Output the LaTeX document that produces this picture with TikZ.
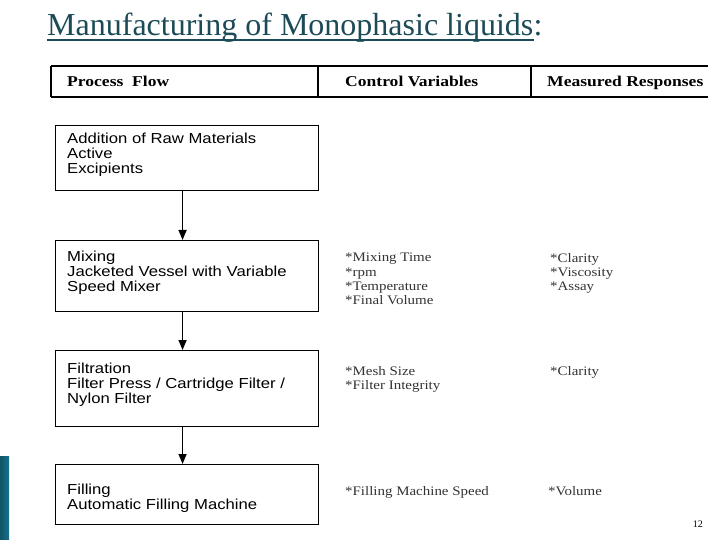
\documentclass[tikz,border=0pt]{standalone}
\usepackage{fontspec}
\setmainfont{Liberation Serif}
\newfontfamily\boxfont[FakeStretch=1.15]{Liberation Sans}
\newfontfamily\notefont[FakeStretch=1.15]{Liberation Serif}
\newfontfamily\headfont[FakeStretch=1.17]{Liberation Serif}
\usetikzlibrary{arrows.meta,positioning,calc}
\definecolor{titleteal}{HTML}{1C4B57}
\definecolor{barteal}{HTML}{16708A}

\begin{document}
\begin{tikzpicture}[x=1pt, y=-1pt,
  stage/.style={draw, line width=1.1pt, anchor=north west, minimum width=263pt, inner sep=0pt},
  stagetext/.style={anchor=north west, align=left, inner sep=0pt, xshift=12pt, font=\boxfont\fontsize{14.5}{15}\selectfont},
  note/.style={anchor=north west, align=left, inner sep=0pt, font=\notefont\fontsize{13}{14.3}\selectfont, text=black!80},
  head/.style={anchor=base west, inner sep=0pt, font=\headfont\bfseries\fontsize{15}{18}\selectfont},
  rule/.style={line width=1.3pt},
  flow/.style={-{Triangle[length=10pt,width=8pt]}, line width=1.5pt}]
\useasboundingbox (0,0) rectangle (720,540);
\fill[left color=barteal!75!black, right color=barteal] (0,456) rectangle (9,540);
% title
\node[anchor=base west, inner sep=0pt, text=titleteal, font=\fontsize{32}{36}\selectfont] (title) at (47,36)
  {Manufacturing of Monophasic liquids};
\node[anchor=base west, inner sep=0pt, text=titleteal, font=\fontsize{32}{36}\selectfont] (colon) at (title.base east) {:};
\draw[titleteal, line width=2pt] ([yshift=-4.5pt]title.base west) -- ([yshift=-4.5pt]title.base east);
% header row
\draw[rule] (51,66) -- (708,66) (51,97) -- (708,97);
\foreach \x in {51,318,531} \draw[rule] (\x,66) -- (\x,97);
\node[head] (hproc) at (67,87) {Process~ Flow};
\node[head] (hctl) at (345,87) {Control Variables};
\node[head] (hresp) at (547,87) {Measured Responses};
% process stages
\node[stage, minimum height=65pt, label={[stagetext, yshift=-8pt]north west:{Addition of Raw Materials\\Active\\Excipients}}] (raw) at (55,125) {};
\node[stage, minimum height=71pt, label={[stagetext, yshift=-11pt]north west:{Mixing\\Jacketed Vessel with Variable\\Speed Mixer}}] (mix) at (55,240) {};
\node[stage, minimum height=76pt, label={[stagetext, yshift=-13pt]north west:{Filtration\\Filter Press / Cartridge Filter /\\Nylon Filter}}] (filt) at (55,350) {};
\node[stage, minimum height=60pt, label={[stagetext, yshift=-20pt]north west:{Filling\\Automatic Filling Machine}}] (fill) at (55,464) {};
\foreach \a/\b in {raw/mix, mix/filt, filt/fill}
  \draw[flow] ([xshift=-4.5pt]\a.south) -- ([xshift=-4.5pt]\b.north);
% control variables and responses
\node[note] (mixctl) at (345,253) {*Mixing Time\\*rpm\\*Temperature\\*Final Volume};
\node[note] (mixresp) at (550,253) {*Clarity\\*Viscosity\\*Assay};
\node[note] (filtctl) at (345,366) {*Mesh Size\\*Filter Integrity};
\node[note] (filtresp) at (550,366) {*Clarity};
\node[note] (fillctl) at (345,486) {*Filling Machine Speed};
\node[note] (fillresp) at (548,486) {*Volume};
\node[anchor=base east, inner sep=0pt, font=\fontsize{10}{12}\selectfont] (pgnum) at (703,527) {12};
\end{tikzpicture}
\end{document}
